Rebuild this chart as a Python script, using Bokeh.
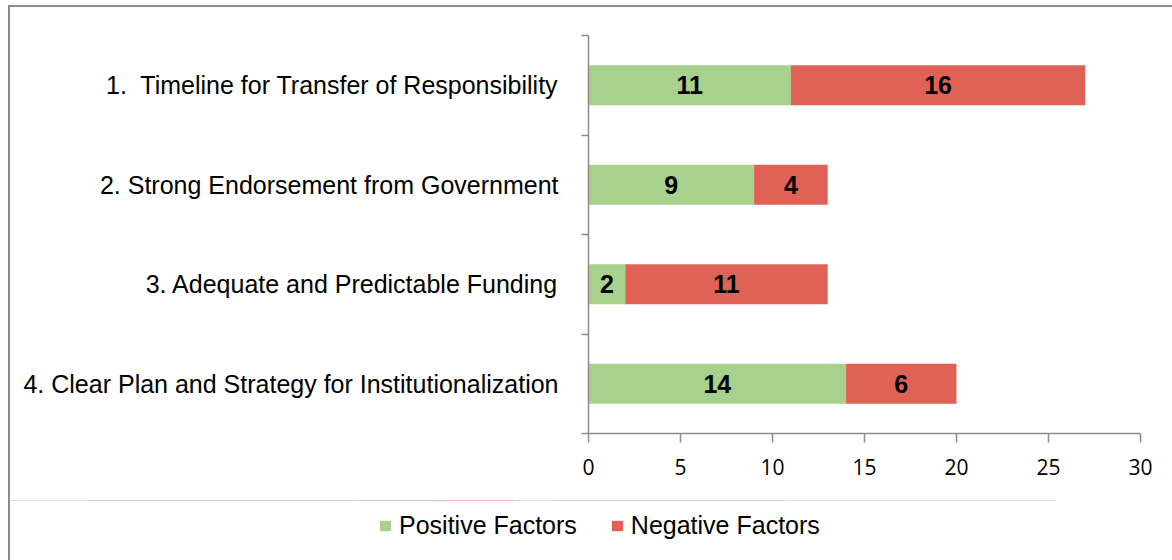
from bokeh.plotting import figure
from bokeh.layouts import column
from bokeh.models import (Range1d, LinearAxis, FixedTicker, BoxAnnotation,
                          Legend, LegendItem, ColumnDataSource, InlineStyleSheet)
from bokeh.core.properties import value
from bokeh.embed import file_html
from bokeh.resources import INLINE

# ---- data ----
categories = [
    "1.\u00a0 Timeline for Transfer of Responsibility",
    "2. Strong Endorsement from Government",
    "3. Adequate and Predictable Funding",
    "4. Clear Plan and Strategy for Institutionalization",
]
positive = [11, 9, 2, 14]
negative = [16, 4, 11, 6]
series = ["Positive Factors", "Negative Factors"]
colors = ["#A9D18E", "#E06257"]
x_ticks = [0, 5, 10, 15, 20, 25, 30]

GRAY = "#8C8C8C"
ARIAL = "Liberation Sans"

n = len(categories)
# category slot centres (first category on top)
ypos = [n - i - 0.5 for i in range(n)]

p = figure(y_range=Range1d(0, n), x_range=Range1d(0, 30),
           width=1162, height=493, output_backend="svg", toolbar_location=None,
           y_axis_location=None)
p.min_border_left = 578
p.min_border_right = 32
p.min_border_top = 28
p.min_border_bottom = 67
p.outline_line_color = None
p.background_fill_color = "white"
p.border_fill_color = "white"

for g in p.xgrid + p.ygrid:
    g.visible = False

# y axis: tick marks at category boundaries
tick_axis = LinearAxis(ticker=FixedTicker(ticks=list(range(n + 1))))
tick_axis.axis_line_color = GRAY
tick_axis.axis_line_width = 1.5
tick_axis.major_tick_line_color = GRAY
tick_axis.major_tick_line_width = 1.5
tick_axis.major_tick_out = 7
tick_axis.major_tick_in = 0
tick_axis.minor_tick_line_color = None
tick_axis.major_label_text_font_size = "1px"
tick_axis.major_label_text_alpha = 0
tick_axis.major_label_standoff = 0
p.add_layout(tick_axis, "left")

# y axis: category names at slot centres
cat_axis = LinearAxis(ticker=FixedTicker(ticks=ypos),
                      major_label_overrides={y: c for y, c in zip(ypos, categories)})
cat_axis.axis_line_color = None
cat_axis.major_tick_line_color = None
cat_axis.minor_tick_line_color = None
cat_axis.major_label_text_font = ARIAL
cat_axis.major_label_text_font_size = "25px"
cat_axis.major_label_text_color = "black"
cat_axis.major_label_standoff = 17
p.add_layout(cat_axis, "left")

# x axis
xa = p.xaxis[0]
xa.ticker = FixedTicker(ticks=x_ticks)
xa.axis_line_color = GRAY
xa.axis_line_width = 1.5
xa.major_tick_line_color = GRAY
xa.major_tick_line_width = 1.5
xa.major_tick_out = 9
xa.major_tick_in = 0
xa.minor_tick_line_color = None
xa.major_label_text_font = "Open Sans"
xa.major_label_text_font_size = "21px"
xa.major_label_text_color = "black"
xa.major_label_standoff = 16

src = ColumnDataSource(dict(y=ypos, pos=positive, neg=negative))
rs = p.hbar_stack(["pos", "neg"], y="y", height=0.4, color=colors, line_color=None, source=src)

# value labels
lab_x = [v / 2 for v in positive] + [a + b / 2 for a, b in zip(positive, negative)]
lab_y = ypos + ypos
lab_t = [str(v) for v in positive] + [str(v) for v in negative]
p.text(x=lab_x, y=lab_y, text=lab_t, text_align="center", text_baseline="middle",
       text_font=value(ARIAL), text_font_style="bold", text_font_size="25px", text_color="black")

# ---- legend strip (separate small figure below the chart) ----
pl = figure(width=1162, height=60, x_range=Range1d(0, 30), y_range=Range1d(-n - 2, -n - 1),
            output_backend="svg", toolbar_location=None,
            x_axis_location=None, y_axis_location=None, min_border=0)
if "frame_align" in pl.properties():
    pl.frame_align = False
pl.outline_line_color = None
pl.border_fill_color = "white"
pl.background_fill_color = "white"
for g in pl.xgrid + pl.ygrid:
    g.visible = False
# same stacked series, kept out of view; used only to supply legend swatches
lrs = pl.hbar_stack(["pos", "neg"], y="y", height=0.4, color=colors, line_color=None, source=src)
# white cover over the strip's frame so no clipped edge of those bars shows
pl.add_layout(BoxAnnotation(fill_color="white", fill_alpha=1, line_color=None))

legend = Legend(items=[LegendItem(label=s, renderers=[r]) for s, r in zip(series, lrs)],
                orientation="horizontal", location=(368, 20))
legend.glyph_width = 14
legend.glyph_height = 13
legend.label_standoff = 7
legend.spacing = 33
legend.padding = 0
legend.margin = 0
legend.border_line_color = None
legend.background_fill_alpha = 0
legend.label_text_font = ARIAL
legend.label_text_font_size = "25px"
legend.label_text_color = "black"
pl.add_layout(legend)

layout = column(p, pl, spacing=0)
layout.stylesheets = [InlineStyleSheet(css=":host { margin-left: 8px; margin-top: 5px; "
                                           "border-left: 2px solid #8c8c8c; border-top: 2px solid #8c8c8c; }")]

open("out.html", "w").write(file_html(layout, INLINE))
